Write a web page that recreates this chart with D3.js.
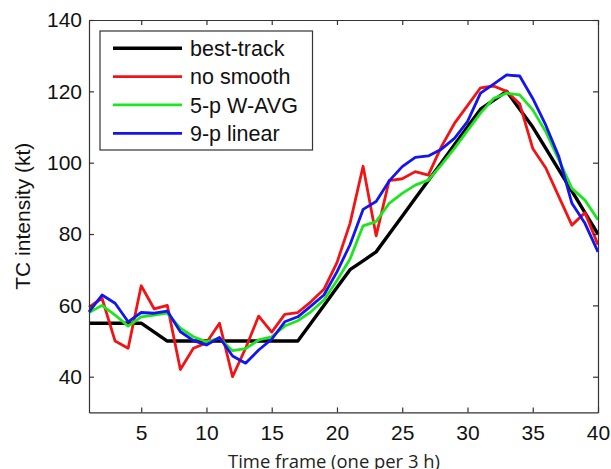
<!DOCTYPE html>
<html>
<head>
<meta charset="utf-8">
<script src="https://cdn.jsdelivr.net/npm/d3@7/dist/d3.min.js"></script>
<style>
  html, body { margin: 0; padding: 0; background: #fff; }
  svg { display: block; }
</style>
</head>
<body>
<div id="chart"></div>
<script>
// Time frames (one every 3 h)
const frames = [1, 2, 3, 4, 5, 6, 7, 8, 9, 10, 11, 12, 13, 14, 15, 16, 17, 18, 19, 20,
                21, 22, 23, 24, 25, 26, 27, 28, 29, 30, 31, 32, 33, 34, 35, 36, 37, 38, 39, 40];

// TC intensity (kt) per frame
const bestTrack = [55, 55, 55, 55, 55, 52.5, 50, 50, 50, 50, 50, 50, 50, 50, 50, 50, 50, 55, 60, 65,
                   70, 72.5, 75, 80, 85, 90, 95, 100, 105, 110, 115, 117.5, 120, 115, 110, 104, 98, 92, 86, 80];
const noSmooth = [59.5, 62, 50, 48, 65.5, 59, 60, 42, 48, 49.5, 55, 40, 48, 57, 52.5, 57.5, 58, 61, 64.5, 72,
                  83, 99, 79.5, 95, 95.5, 97.5, 96.5, 104.5, 111, 116, 121, 121.5, 120, 116.5, 104, 98.5, 90.5, 82.5, 86, 77];
const wAvg5 = [58, 60, 57.3, 54.2, 56.8, 57.3, 57.8, 53.6, 51.2, 49.8, 50.8, 47.3, 47.9, 50.3, 51.2, 54.2, 55.7, 58.2, 61.5, 67,
               73, 82.3, 83.5, 88.6, 91.4, 93.7, 95.1, 99.4, 104, 109, 113.9, 118, 119.5, 119, 114.8, 108.7, 100.8, 92.8, 89.5, 84];
const linear9 = [58.2, 62.9, 60.6, 55.4, 58, 57.8, 58.4, 52.6, 50.1, 48.9, 51, 45.8, 43.8, 47.5, 50.5, 55.4, 56.8, 59.8, 62.9, 69.4,
                 77, 86.9, 89.1, 94.9, 98.9, 101.5, 101.9, 103.8, 106.8, 111.5, 119.5, 122, 124.6, 124.3, 118, 110.5, 101.7, 88.6, 83, 75];

const seriesNames = ["best-track", "no smooth", "5-p W-AVG", "9-p linear"];
const seriesColors = ["#000000", "#f01414", "#1ee61e", "#1414f0"];
const seriesValues = [bestTrack, noSmooth, wAvg5, linear9];

const xTicks = [5, 10, 15, 20, 25, 30, 35, 40];
const yTicks = [40, 60, 80, 100, 120, 140];
const xDomain = [1, 40];
const yDomain = [30, 140];

const W = 611, H = 469;
const plot = { left: 89, right: 598, top: 20, bottom: 412.4 };
const tickFont = "'Liberation Sans', Arial, Helvetica, sans-serif";

const svg = d3.select("#chart").append("svg")
  .attr("width", W).attr("height", H)
  .attr("viewBox", `0 0 ${W} ${H}`);

svg.append("rect").attr("width", W).attr("height", H).attr("fill", "#fff");

const x = d3.scaleLinear().domain(xDomain).range([plot.left, plot.right]);
const y = d3.scaleLinear().domain(yDomain).range([plot.bottom, plot.top]);

// Data lines
const line = d3.line()
  .x((d, i) => x(frames[i]))
  .y(d => y(d));

const lines = svg.append("g").attr("class", "lines");
seriesValues.forEach((vals, k) => {
  lines.append("path")
    .datum(vals)
    .attr("fill", "none")
    .attr("stroke", seriesColors[k])
    .attr("stroke-width", k === 0 ? 3.4 : 2.8)
    .attr("stroke-linejoin", "round")
    .attr("d", line);
});

// Box axes with inward ticks on all sides
const axisColor = "#333";
function styleAxis(g) {
  g.selectAll(".domain").attr("stroke", axisColor).attr("stroke-width", 1.2);
  g.selectAll(".tick line").attr("stroke", axisColor).attr("stroke-width", 1.2);
  g.selectAll(".tick text").attr("fill", "#111")
    .style("font-family", tickFont).style("font-size", "21px");
}

svg.append("g")
  .attr("transform", `translate(0,${plot.bottom})`)
  .call(d3.axisBottom(x).tickValues(xTicks).tickFormat(d3.format("d"))
    .tickSizeInner(-5).tickSizeOuter(0).tickPadding(13))
  .call(styleAxis);

svg.append("g")
  .attr("transform", `translate(0,${plot.top})`)
  .call(d3.axisTop(x).tickValues(xTicks).tickFormat("")
    .tickSizeInner(-5).tickSizeOuter(0))
  .call(styleAxis);

svg.append("g")
  .attr("transform", `translate(${plot.left},0)`)
  .call(d3.axisLeft(y).tickValues(yTicks).tickFormat(d3.format("d"))
    .tickSizeInner(-5).tickSizeOuter(0).tickPadding(7))
  .call(styleAxis);

svg.append("g")
  .attr("transform", `translate(${plot.right},0)`)
  .call(d3.axisRight(y).tickValues(yTicks).tickFormat("")
    .tickSizeInner(-5).tickSizeOuter(0))
  .call(styleAxis);

svg.selectAll(".domain").attr("fill", "none");

// Axis titles
svg.append("text")
  .attr("transform", `translate(30,${(plot.top + plot.bottom) / 2}) rotate(-90)`)
  .attr("text-anchor", "middle")
  .style("font-family", tickFont)
  .style("font-size", "21px")
  .attr("fill", "#111")
  .text("TC intensity (kt)");

const xTitle = svg.append("text")
  .attr("x", 334)
  .attr("y", 468)
  .attr("text-anchor", "middle")
  .style("font-family", "'Open Sans', 'Noto Sans', sans-serif")
  .style("font-size", "17px")
  .attr("fill", "#222")
  .text("Time frame (one per 3 h)");
// size the title so it spans about 212 px
const tw = xTitle.node().getComputedTextLength();
if (tw > 0) xTitle.style("font-size", (17 * 212 / tw).toFixed(2) + "px");

// Legend
const legend = svg.append("g").attr("class", "legend");
legend.append("rect")
  .attr("x", 100).attr("y", 31)
  .attr("width", 212.5).attr("height", 119)
  .attr("fill", "#fff")
  .attr("stroke", "#333").attr("stroke-width", 1.2);

const rowY = d3.scalePoint().domain(seriesNames).range([48.3, 133.3]);
seriesNames.forEach((name, k) => {
  const cy = rowY(name);
  legend.append("line")
    .attr("x1", 113).attr("x2", 182)
    .attr("y1", cy).attr("y2", cy)
    .attr("stroke", seriesColors[k])
    .attr("stroke-width", k === 0 ? 3.4 : 2.8);
  legend.append("text")
    .attr("x", 190).attr("y", cy + 7.6)
    .style("font-family", tickFont)
    .style("font-size", "21.5px")
    .attr("fill", "#111")
    .text(name);
});
</script>
</body>
</html>
